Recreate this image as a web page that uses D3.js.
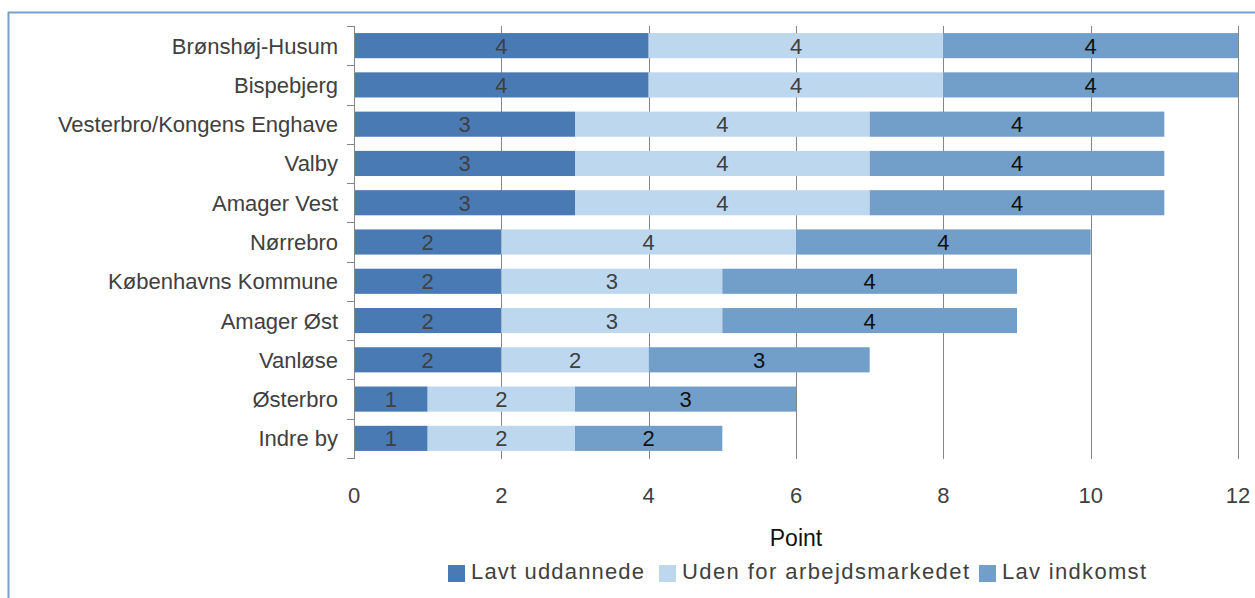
<!DOCTYPE html>
<html><head><meta charset="utf-8">
<script src="https://cdn.jsdelivr.net/npm/d3@7"></script>
<style>body{margin:0;background:#fff;}svg{display:block;font-family:"Liberation Sans",Arial,sans-serif;}</style>
</head><body>
<svg id="c" width="1255" height="598"></svg>
<script>
const categories = ["Brønshøj-Husum","Bispebjerg","Vesterbro/Kongens Enghave","Valby","Amager Vest","Nørrebro","Københavns Kommune","Amager Øst","Vanløse","Østerbro","Indre by"];
const lavtUddannede = [4,4,3,3,3,2,2,2,2,1,1];
const udenForArbejdsmarkedet = [4,4,4,4,4,4,3,3,2,2,2];
const lavIndkomst = [4,4,4,4,4,4,4,4,3,3,2];
const seriesNames = ["Lavt uddannede","Uden for arbejdsmarkedet","Lav indkomst"];
const xTicks = [0,2,4,6,8,10,12];
const colors = ["#4a7ab4","#bdd7ef","#729fc9"];
const labelColors = ["#404040","#404040","#111111"];

const svg = d3.select("#c");
// outer frame
svg.append("rect").attr("x",8.5).attr("y",12.5).attr("width",1300).attr("height",700)
  .attr("fill","none").attr("stroke","#7b9fcb").attr("stroke-width",2);

const top0 = 26, bot0 = 458;
const x = d3.scaleLinear().domain([0,12]).range([354,1238]);
const y = d3.scaleBand().domain(categories).range([top0,bot0]).paddingInner(0.36).paddingOuter(0.18);

const rows = categories.map((c,i)=>({cat:c, vals:[lavtUddannede[i],udenForArbejdsmarkedet[i],lavIndkomst[i]]}));
const stack = d3.stack().keys([0,1,2]).value((d,k)=>d.vals[k]);
const stacked = stack(rows);

// gridlines
svg.append("g").selectAll("line").data(xTicks.filter(t=>t>0)).join("line")
  .attr("x1",d=>Math.round(x(d))+0.5).attr("x2",d=>Math.round(x(d))+0.5).attr("y1",top0).attr("y2",bot0+1)
  .attr("stroke","#868686").attr("stroke-width",1);

// bars
stacked.forEach((layer,k)=>{
  const g = svg.append("g");
  g.selectAll("rect").data(layer).join("rect")
    .attr("x",d=>x(d[0])).attr("width",d=>x(d[1])-x(d[0]))
    .attr("y",d=>y(d.data.cat)).attr("height",y.bandwidth())
    .attr("fill",colors[k]);
  g.selectAll("text").data(layer).join("text")
    .attr("x",d=>(x(d[0])+x(d[1]))/2).attr("y",d=>y(d.data.cat)+y.bandwidth()/2+8)
    .attr("text-anchor","middle").attr("font-size",22).attr("fill",labelColors[k])
    .text(d=>d.data.vals[k]);
});

// y axis
const step = (bot0-top0)/categories.length;
const yax = svg.append("g");
yax.append("line").attr("x1",354.5).attr("x2",354.5).attr("y1",top0).attr("y2",bot0+1).attr("stroke","#868686");
yax.selectAll("line.t").data(d3.range(categories.length+1)).join("line").attr("class","t")
  .attr("x1",347).attr("x2",354.5).attr("y1",i=>Math.round(top0+i*step)+0.5).attr("y2",i=>Math.round(top0+i*step)+0.5)
  .attr("stroke","#868686");
yax.selectAll("text").data(categories).join("text")
  .attr("x",338).attr("y",d=>y(d)+y.bandwidth()/2+8).attr("text-anchor","end")
  .attr("font-size",22).attr("fill","#404040").text(d=>d);

// x tick labels
svg.append("g").selectAll("text").data(xTicks).join("text")
  .attr("x",d=>x(d)).attr("y",503).attr("text-anchor","middle")
  .attr("font-size",22).attr("fill","#404040").text(d=>d);

svg.append("text").attr("x",796).attr("y",546).attr("text-anchor","middle")
  .attr("font-size",23).attr("fill","#111").text("Point");

// legend
const legX = [448,659,979];
const legW = [173,287,144];
const leg = svg.append("g");
seriesNames.forEach((n,i)=>{
  leg.append("rect").attr("x",legX[i]).attr("y",565).attr("width",17).attr("height",17).attr("fill",colors[i]);
  leg.append("text").attr("x",legX[i]+23).attr("y",579).attr("font-size",22).attr("fill","#404040")
    .attr("textLength",legW[i]).attr("lengthAdjust","spacing").text(n);
});
</script>
</body></html>
